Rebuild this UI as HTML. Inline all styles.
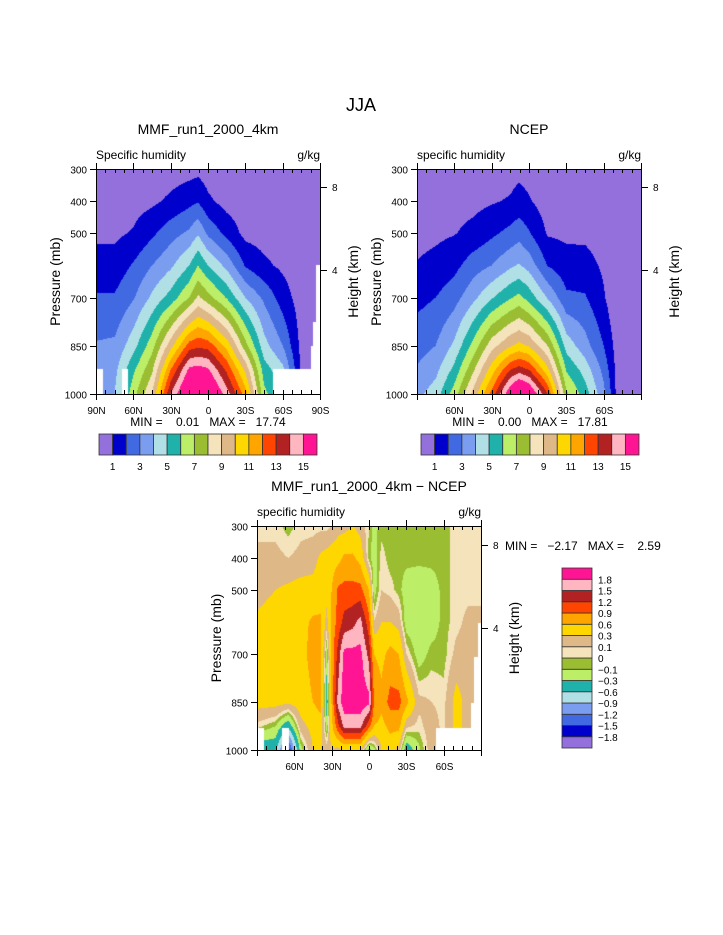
<!DOCTYPE html>
<html><head><meta charset="utf-8">
<style>
html,body{margin:0;padding:0;background:#fff;}
#wrap{position:relative;width:723px;height:935px;overflow:hidden;background:#fff;}
canvas{position:absolute;}
svg{position:absolute;left:0;top:0;}
text{font-family:"Liberation Sans","DejaVu Sans",sans-serif;fill:#000;white-space:pre;}
</style></head>
<body>
<div id="wrap">
<canvas id="c1" width="224" height="225" style="left:96px;top:169px"></canvas>
<canvas id="c2" width="224" height="225" style="left:417px;top:169px"></canvas>
<canvas id="c3" width="224" height="224" style="left:257px;top:526px"></canvas>
<svg id="ov" width="723" height="935"></svg>
</div>
<script>
// ---- data ----
const pres = [300,400,500,600,700,850,925,1000];
const lats1 = [90,75,60,45,30,15,8,0,-15,-30,-45,-60,-75,-90];
const q1 = [
 [0.3,0.5,0.8,1.4,2.1,3.1,3.5,3.8],
 [0.3,0.5,0.8,1.4,2.1,3.2,3.7,4.0],
 [0.3,0.6,1.1,2.1,2.9,4.6,5.8,6.6],
 [0.4,0.8,1.8,3.0,4.2,6.6,7.8,9.0],
 [0.5,1.2,2.6,3.8,5.4,9.6,12,14],
 [0.6,1.7,3.2,5.0,7.0,12.5,15.3,17],
 [0.7,1.9,3.9,6.0,8.2,12.8,15.5,17.5],
 [0.5,1.2,2.8,5.0,7.4,12.6,15.2,17],
 [0.3,0.6,1.7,3.7,5.9,10.7,12.8,14.5],
 [0.2,0.4,0.7,1.9,4.0,7.4,9.8,11.5],
 [0.2,0.4,0.6,1.2,2.8,4.4,5.5,6.3],
 [0.1,0.3,0.5,0.8,1.5,3.0,4.3,4.8],
 [0.1,0.2,0.3,0.4,0.5,0.7,0.8,0.9],
 [0.1,0.2,0.3,0.4,0.5,0.7,0.8,0.9]
];
const lats2 = [90,75,60,45,30,15,8,0,-15,-30,-45,-60,-65,-70,-90];
const q2 = [
 [0.3,0.5,0.7,1.05,1.7,2.6,3.1,3.7],
 [0.3,0.6,0.8,1.3,2.0,3.0,3.7,4.5],
 [0.3,0.6,0.95,1.7,2.6,4.2,5.3,6.5],
 [0.4,0.7,1.3,2.5,3.7,6.3,7.8,9.3],
 [0.5,0.9,1.8,3.0,4.9,8.6,10.5,12.3],
 [0.6,1.1,2.3,3.8,5.9,9.9,13,16],
 [0.7,1.4,2.6,4.1,6.3,10.3,13.5,17.5],
 [0.6,1.1,2.1,3.6,5.6,9.9,13,16.5],
 [0.3,0.5,0.9,1.95,3.9,8,10.3,13],
 [0.3,0.5,0.8,1.4,2.2,4.6,5.9,7.2],
 [0.3,0.5,0.8,1.35,2.1,3.4,4.6,5.5],
 [0.2,0.4,0.6,0.85,1.1,2.0,2.7,3.3],
 [0.2,0.3,0.4,0.5,0.7,1.3,1.8,2.2],
 [0.1,0.2,0.3,0.4,0.5,0.7,0.8,0.9],
 [0.1,0.2,0.3,0.4,0.5,0.7,0.8,0.9]
];
const latsD = [90,75,65,55,45,39,34,30,25,20,13,7,0,-4,-10,-17,-24,-30,-40,-50,-60,-70,-80,-90];
const dq = [
 [0.05,0.15,0.2,0.35,0.45,0.4,0.05,-0.5],
 [0.05,0.15,0.3,0.45,0.45,0.4,-0.1,-0.5],
 [-0.05,0.1,0.35,0.45,0.45,0.35,-0.5,-1.7],
 [0.05,0.15,0.4,0.5,0.5,0.45,0.2,-0.2],
 [0.05,0.2,0.4,0.65,0.7,0.6,0.4,0.3],
 [0.05,0.35,0.45,0.65,0.7,0.7,0.5,0.3],
 [0.05,0.4,0.4,0.2,-0.2,-0.5,-0.2,0.2],
 [0.1,0.45,0.6,0.7,0.7,0.65,0.5,0.3],
 [0.2,0.5,0.95,1.0,1.3,1.6,1.1,0.2],
 [0.2,0.65,1.0,1.3,1.9,2.0,1.6,0.3],
 [0.3,0.65,1.0,1.4,1.9,2.0,1.6,0.3],
 [0.2,0.5,1.0,1.6,1.9,2.0,1.6,0.3],
 [0,-0.05,0.6,1.0,1.4,1.9,1.0,-0.4],
 [-0.15,-0.2,-0.2,0.1,0.6,0.9,0.6,-0.2],
 [-0.05,0.05,0.1,0.3,0.5,0.7,0.5,0.3],
 [-0.05,-0.05,0.05,0.3,0.7,1.0,0.7,0.4],
 [-0.05,-0.05,-0.05,0.2,0.6,1.0,0.7,0.2],
 [-0.05,-0.05,-0.2,-0.2,0.1,0.7,0.15,-0.5],
 [-0.05,-0.05,-0.25,-0.25,-0.2,0.15,0.05,-0.15],
 [-0.05,-0.05,-0.2,-0.2,-0.05,0.1,0.2,0.2],
 [-0.05,-0.05,-0.05,-0.05,-0.05,0.05,0.05,0.05],
 [0.05,0.05,0.05,0.05,0.15,0.4,0.4,0.4],
 [0.05,0.05,0.05,0.15,0.2,0.2,0.2,0.2],
 [0.05,0.05,0.05,0.15,0.2,0.2,0.2,0.2]
];
const levelsQ = [1,2,3,4,5,6,7,8,9,10,11,12,13,14,15];
const levelsD = [-1.8,-1.5,-1.2,-0.9,-0.6,-0.3,-0.1,0,0.1,0.3,0.6,0.9,1.2,1.5,1.8];
const cbLabelsQ = ["1","3","5","7","9","11","13","15"];
const cbLabelsD = ["−1.8","−1.5","−1.2","−0.9","−0.6","−0.3","−0.1","0","0.1","0.3","0.6","0.9","1.2","1.5","1.8"];
const latTicks = [90,60,30,0,-30,-60,-90];
const latTickLabels = ["90N","60N","30N","0","30S","60S","90S"];
const presTicks = [300,400,500,700,850,1000];
const colors = ["#9370DB","#0000CD","#4169E1","#7B9DF0","#B0E0E6","#20B2AA","#BCEE68","#9ABD32","#F5E3BC","#DEB887","#FFD700","#FFA500","#FF4500","#B22222","#FFB6C1","#FF1493"];

function hex(c){return [parseInt(c.substr(1,2),16),parseInt(c.substr(3,2),16),parseInt(c.substr(5,2),16)];}
const rgb = colors.map(hex);

function sample(lats, grid, lat, p){
  let i=0; while(i<lats.length-2 && lat<lats[i+1]) i++;
  let tl=(lats[i]-lat)/(lats[i]-lats[i+1]); tl=Math.max(0,Math.min(1,tl));
  let j=0; while(j<pres.length-2 && p>pres[j+1]) j++;
  let tp=(p-pres[j])/(pres[j+1]-pres[j]); tp=Math.max(0,Math.min(1,tp));
  const a=grid[i][j]*(1-tp)+grid[i][j+1]*tp, b=grid[i+1][j]*(1-tp)+grid[i+1][j+1]*tp;
  return a*(1-tl)+b*tl;
}
function render(id, lats, grid, levels, masks, x0, y0){
  const cv=document.getElementById(id), ctx=cv.getContext('2d');
  const W=cv.width,H=cv.height, img=ctx.createImageData(W,H);
  for(let y=0;y<H;y++)for(let x=0;x<W;x++){
    const lat=90-(x+0.5)/W*180, p=300+(y+0.5)/H*700;
    const v=sample(lats,grid,lat,p);
    let k=0; for(const L of levels) if(v>=L) k++;
    const c=rgb[k], o=(y*W+x)*4;
    img.data[o]=c[0];img.data[o+1]=c[1];img.data[o+2]=c[2];img.data[o+3]=255;
  }
  ctx.putImageData(img,0,0);
  ctx.fillStyle="#fff";
  for(const m of masks) ctx.fillRect(m[0]-x0,m[1]-y0,m[2],m[3]);
}
render('c1',lats1,q1,levelsQ,[[96,369,7,25],[122,369,6,25],[273,369,47,25],[316,265,4,130],[313,322,7,72],[311,346,9,48]],96,169);
render('c2',lats2,q2,levelsQ,[],417,169);
render('c3',latsD,dq,levelsD,[[257,728,7,22],[282,728,7,22],[436,728,45,22],[471,703,10,47],[474,657,7,93],[478,623,3,127]],257,526);

// ---- overlay ----
const NS="http://www.w3.org/2000/svg", ov=document.getElementById('ov');
function el(tag,attrs,txt){const e=document.createElementNS(NS,tag);for(const k in attrs)e.setAttribute(k,attrs[k]);if(txt!==undefined)e.textContent=txt;ov.appendChild(e);return e;}
function line(x1,y1,x2,y2,name){const e=el('line',{x1:x1,y1:y1,x2:x2,y2:y2,stroke:'#000','stroke-width':1});

return e;}
function text(x,y,s,size,anchor,name,rot){const a={x:x,y:y,'font-size':size,'text-anchor':anchor||'start'};if(rot)a.transform='rotate(-90 '+x+' '+y+')';const e=el('text',a,s);

return e;}

function panel(o){
  const {x0,y0,w,h}=o;
  const fr=el('rect',{x:x0+0.5,y:y0+0.5,width:w,height:h,fill:'none',stroke:'#000','stroke-width':1});
  
  
  const xs=lat=>x0+(90-lat)/180*w, ys=p=>y0+(p-300)/700*h;
  for(let lat=90;lat>=-90;lat-=7.5){const x=Math.round(xs(lat))+0.5;
    line(x,y0+h,x,y0+h-4,o.id+'-minor-tick');line(x,y0,x,y0+4,o.id+'-minor-tick');}
  latTicks.forEach((lat,i)=>{const x=Math.round(xs(lat))+0.5;
    line(x,y0+h-4,x,y0+h+6,o.id+'-major-tick');line(x,y0+4,x,y0-6,o.id+'-major-tick');
    if(o.full||(lat>-90&&lat<90)) text(x,y0+h+20,latTickLabels[i],10,'middle',o.id+'-lat-label');});
  presTicks.forEach(p=>{const y=Math.round(ys(p))+0.5;
    line(x0-6,y,x0,y,o.id+'-pressure-tick');text(x0-9,y+4,String(p),10,'end',o.id+'-pressure-label');});
  [[8,o.h8],[4,o.h4]].forEach(t=>{line(x0+w,t[1]+0.5,x0+w+7,t[1]+0.5,o.id+'-height-tick');text(x0+w+12,t[1]+4,String(t[0]),10,'start',o.id+'-height-label');});
  text(x0-36,y0+h/2,'Pressure (mb)',14,'middle',o.id+'-y-axis-title',true);
  text(x0+w+38,y0+h/2,'Height (km)',14,'middle',o.id+'-right-axis-title',true);
  text(x0+w/2,y0-35,o.title,14,'middle',o.id+'-title');
  text(x0,y0-10,o.left,12,'start',o.id+'-variable-label');
  text(x0+w,y0-10,'g/kg',12,'end',o.id+'-units-label');
}
panel({id:'mmf',x0:96,y0:169,w:224,h:225,h8:187,h4:270,full:true,title:'MMF_run1_2000_4km',left:'Specific humidity'});
panel({id:'ncep',x0:417,y0:169,w:224,h:225,h8:187,h4:270,full:false,title:'NCEP',left:'specific humidity'});
panel({id:'diff',x0:257,y0:526,w:224,h:224,h8:545,h4:628,full:false,title:'MMF_run1_2000_4km − NCEP',left:'specific humidity'});
text(361,111,'JJA',18,'middle','main-title');
text(208,426,'MIN =    0.01   MAX =   17.74',12,'middle','mmf-min-max');
text(530,426,'MIN =    0.00   MAX =   17.81',12,'middle','ncep-min-max');
text(505,550,'MIN =   −2.17   MAX =    2.59',12,'start','diff-min-max');

function hbar(x0,name){
  const bw=218/16;
  colors.forEach((c,i)=>{const r=el('rect',{x:x0+i*bw,y:434,width:bw,height:21,fill:c,stroke:'#333','stroke-width':0.8});
    
    });
  cbLabelsQ.forEach((s,i)=>text(x0+bw*(1+2*i),470,s,10,'middle',name+'-label'));
}
hbar(99,'mmf-colorbar');hbar(421,'ncep-colorbar');
(function(){const bh=180/16;
  colors.forEach((c,i)=>{const r=el('rect',{x:562,y:568+(15-i)*bh,width:30,height:bh,fill:c,stroke:'#333','stroke-width':0.8});
    
    });
  cbLabelsD.forEach((s,i)=>text(598,568+(15-i)*bh+4,s,10,'start','diff-colorbar-label'));
})();
</script>
</body></html>
